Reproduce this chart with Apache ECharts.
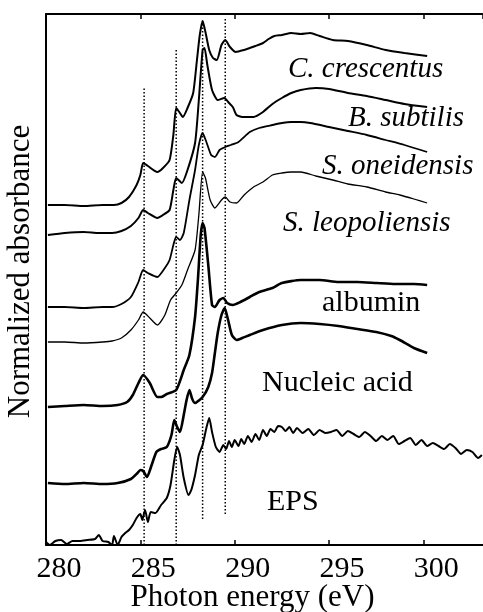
<!DOCTYPE html>
<html>
<head>
<meta charset="utf-8">
<script src="https://cdn.jsdelivr.net/npm/echarts@6/dist/echarts.min.js"></script>
<style>
html,body{margin:0;padding:0;background:#fff;}
#chart{width:483px;height:612px;}
</style>
</head>
<body>
<div id="chart"></div>
<script>
// ---- data: [photon energy (eV), stacked absorbance (a.u.)] ----
var cCrescentus = [[280.1,340],[281,340],[282,339],[283,340],[283.6,340],[284.0,342],[284.4,348],[284.8,360],[285.0,370],[285.15,382],[285.4,379],[285.9,373],[286.2,377],[286.55,385],[286.75,410],[286.9,437],[287.1,432],[287.25,428],[287.5,437],[287.8,452],[288.0,485],[288.15,510],[288.3,524],[288.45,513],[288.65,495],[288.85,487],[289.05,485],[289.3,500],[289.5,505],[289.75,498],[290.05,493],[290.5,495],[290.8,497],[291.1,499],[291.5,502],[291.8,506],[292.1,509],[292.5,510],[293,512],[293.5,511],[294,512],[294.5,509],[295.2,505],[296,504],[297,500],[298,495],[299,492],[300.2,489]];
var bSubtilis = [[280.1,310],[281,312],[282,313],[282.8,312],[283.5,312],[284.0,314],[284.5,319],[284.9,327],[285.15,335],[285.4,332],[285.9,327],[286.2,330],[286.55,335],[286.75,355],[286.9,367],[287.2,362],[287.5,375],[287.9,402],[288.1,445],[288.3,495],[288.4,497],[288.55,480],[288.8,455],[289.1,445],[289.45,447],[289.7,442],[289.9,438],[290.1,430],[290.4,428],[291,428],[291.5,433],[292,441],[292.5,447],[293,452],[293.5,455],[294.3,457],[295,456],[296,452],[297,449],[298,445],[299,441],[300.2,438]];
var sOneidensis = [[280.1,238],[281,238],[282,237],[283,238],[283.5,238],[284.0,241],[284.5,248],[284.9,263],[285.15,275],[285.4,272],[285.9,268],[286.3,277],[286.55,285],[286.75,300],[286.9,308],[287.1,305],[287.3,312],[287.6,345],[287.9,375],[288.1,400],[288.3,412],[288.5,403],[288.75,390],[288.95,388],[289.2,395],[289.5,398],[289.8,400],[290.2,403],[290.8,413],[291.3,417],[292,420],[292.5,422],[293,423],[293.5,423],[294,422],[295,418],[296,414],[297,410],[298,405],[299,400],[300.2,393]];
var sLeopoliensis = [[280.1,203],[281,203],[282,202],[283,203],[283.5,204],[284,207],[284.5,215],[284.9,225],[285.15,233],[285.5,227],[285.9,220],[286.3,230],[286.6,245],[286.9,252],[287.2,260],[287.5,275],[287.9,295],[288.1,330],[288.3,373],[288.45,367],[288.7,345],[288.95,337],[289.3,345],[289.5,348],[289.75,343],[290.1,342],[290.5,350],[291,358],[291.5,363],[292,370],[292.5,372],[293,373],[293.5,373],[294.3,369],[295.2,365],[296,361],[297,358],[298,353],[298.75,350],[299.5,346],[300.2,342]];
var albumin = [[280.1,138],[281,139],[282,140],[283,139],[283.8,140],[284.3,143],[284.6,150],[284.9,162],[285.15,170],[285.5,162],[285.9,148],[286.1,148],[286.4,151],[286.9,155],[287.3,175],[287.6,190],[287.9,228],[288.05,265],[288.2,310],[288.3,322],[288.4,317],[288.6,280],[288.8,240],[288.95,238],[289.2,245],[289.4,247],[289.6,242],[289.9,240],[290.3,243],[290.8,248],[291.3,253],[292,257],[292.5,262],[293.5,265],[294.5,265],[295.5,263],[296.5,263],[297.5,262],[298.5,261],[299.5,261],[300.2,260]];
var nucleicAcid = [[280.1,62],[281,61],[282,62],[283,61],[283.8,62],[284.5,66],[284.85,72],[285.0,75],[285.15,74],[285.35,68],[285.6,80],[285.85,93],[286.1,96],[286.4,98],[286.65,110],[286.8,125],[286.95,118],[287.1,113],[287.3,130],[287.45,145],[287.6,155],[287.75,146],[287.9,142],[288.3,148],[288.6,158],[288.8,172],[288.95,192],[289.1,212],[289.3,230],[289.47,237],[289.65,225],[289.85,210],[290.1,205],[290.4,207],[290.8,210],[291.5,215],[292.5,220],[293.5,222],[294.5,221],[295.5,219],[296.5,216],[297.5,213],[298.3,209],[298.75,205],[299.5,197],[300.2,192]];
var eps = [[280.0,3],[280.2,0],[280.5,4],[280.8,5],[281.1,1],[281.4,4],[281.8,4],[282.2,5],[282.6,6],[282.8,10],[283.0,4],[283.3,3],[283.5,0],[283.6,9],[283.8,0],[284.0,8],[284.2,12],[284.4,15],[284.6,20],[284.8,27],[285.0,31],[285.1,25],[285.25,35],[285.4,23],[285.55,33],[285.8,32],[286.1,40],[286.4,47],[286.6,60],[286.8,85],[286.95,98],[287.1,90],[287.3,67],[287.55,50],[287.7,55],[287.9,70],[288.1,90],[288.3,100],[288.5,117],[288.65,127],[288.8,113],[289.0,98],[289.2,93],[289.4,100],[289.55,96],[289.7,104],[289.85,98],[290.0,105],[290.2,99],[290.35,106],[290.5,101],[290.7,109],[290.9,103],[291.1,111],[291.3,105],[291.5,115],[291.7,109],[291.9,116],[292.1,113],[292.3,119],[292.5,118],[292.7,114],[292.9,118],[293.1,112],[293.3,117],[293.6,112],[293.9,116],[294.2,110],[294.5,115],[294.8,112],[295.1,113],[295.4,115],[295.7,109],[296.0,114],[296.3,111],[296.6,108],[296.9,113],[297.2,109],[297.5,104],[297.8,109],[298.1,105],[298.4,109],[298.7,101],[299.0,104],[299.3,107],[299.6,100],[299.9,105],[300.2,99],[300.5,102],[300.8,99],[301.1,96],[301.4,101],[301.7,97],[302.0,91],[302.3,95],[302.6,93],[302.9,87],[303.1,90]];

// reference energies (dotted lines)
var refEnergies = [285.2, 286.9, 288.3, 289.5];
var refTop = [458, 497, 526, 526];
var refBottom = [0, 0, 26, 31];

var xTicks = [280, 285, 290, 295, 300];
var seriesNames = ['C. crescentus','B. subtilis','S. oneidensis','S. leopoliensis','albumin','Nucleic acid','EPS'];

var FONT = '"Liberation Serif","Times New Roman",serif';
var chart = echarts.init(document.getElementById('chart'), null, {renderer:'canvas'});

var curves = [cCrescentus, bSubtilis, sOneidensis, sLeopoliensis, albumin, nucleicAcid, eps];
var widths = [2, 2, 1.8, 1.3, 2.6, 2.6, 2];
var series = curves.map(function(d, i){
  return {name: seriesNames[i], type:'line', data:d, showSymbol:false, smooth:0.2,
    lineStyle:{color:'#000', width:widths[i]}, z:3, silent:true};
});
refEnergies.forEach(function(e, i){
  series.push({type:'line', data:[[e, refBottom[i]],[e, refTop[i]]], showSymbol:false,
    lineStyle:{color:'#000', width:1.5, type:[1.5,2]}, z:2, silent:true});
});

var labelDefs = [
  {t:'C. crescentus', x:288, y:79, it:true},
  {t:'B. subtilis', x:348, y:128, it:true},
  {t:'S. oneidensis', x:322, y:176, it:true},
  {t:'S. leopoliensis', x:283, y:233, it:true},
  {t:'albumin', x:322, y:313, it:false},
  {t:'Nucleic acid', x:262, y:393, it:false},
  {t:'EPS', x:267, y:512, it:false}
];
var graphics = labelDefs.map(function(l){
  return {type:'text', x:l.x, y:l.y - 10, style:{text:l.t, fill:'#000',
    font:(l.it?'italic ':'') + (l.it?'29px ':'30px ') + FONT, verticalAlign:'middle', align:'left'}};
});

var axisCommon = {type:'value', min:280, max:303.16, interval:5,
  axisLine:{show:true, lineStyle:{color:'#000', width:2}},
  axisTick:{show:true, inside:true, length:5, lineStyle:{color:'#000', width:1.5}},
  splitLine:{show:false}};

var option = {
  backgroundColor:'#fff',
  animation:false,
  grid:{left:46, right:0, top:14, bottom:67, containLabel:false, outerBoundsMode:'none'},
  xAxis:[
    Object.assign({}, axisCommon, {position:'bottom',
      axisLabel:{show:true, color:'#000', fontFamily:FONT, fontSize:30, margin:9, padding:[0,0,0,26],
        showMaxLabel:false,
        formatter:function(v){ return xTicks.indexOf(v) >= 0 ? String(v) : ''; }},
      name:'Photon energy (eV)', nameLocation:'middle', nameGap:37, nameMoveOverlap:false,
      nameTextStyle:{color:'#000', fontFamily:FONT, fontSize:31, padding:[0,24,0,0]}}),
    Object.assign({}, axisCommon, {position:'top', axisLabel:{show:false}})
  ],
  yAxis:{type:'value', min:0, max:531, position:'left',
    axisLine:{show:true, lineStyle:{color:'#000', width:2}},
    axisTick:{show:false}, axisLabel:{show:false}, splitLine:{show:false},
    name:'Normalized absorbance', nameLocation:'middle', nameGap:10, nameRotate:90,
    nameTextStyle:{color:'#000', fontFamily:FONT, fontSize:31, padding:[0,0,0,16]}},
  graphic:graphics,
  series:series
};
chart.setOption(option);
</script>
</body>
</html>
